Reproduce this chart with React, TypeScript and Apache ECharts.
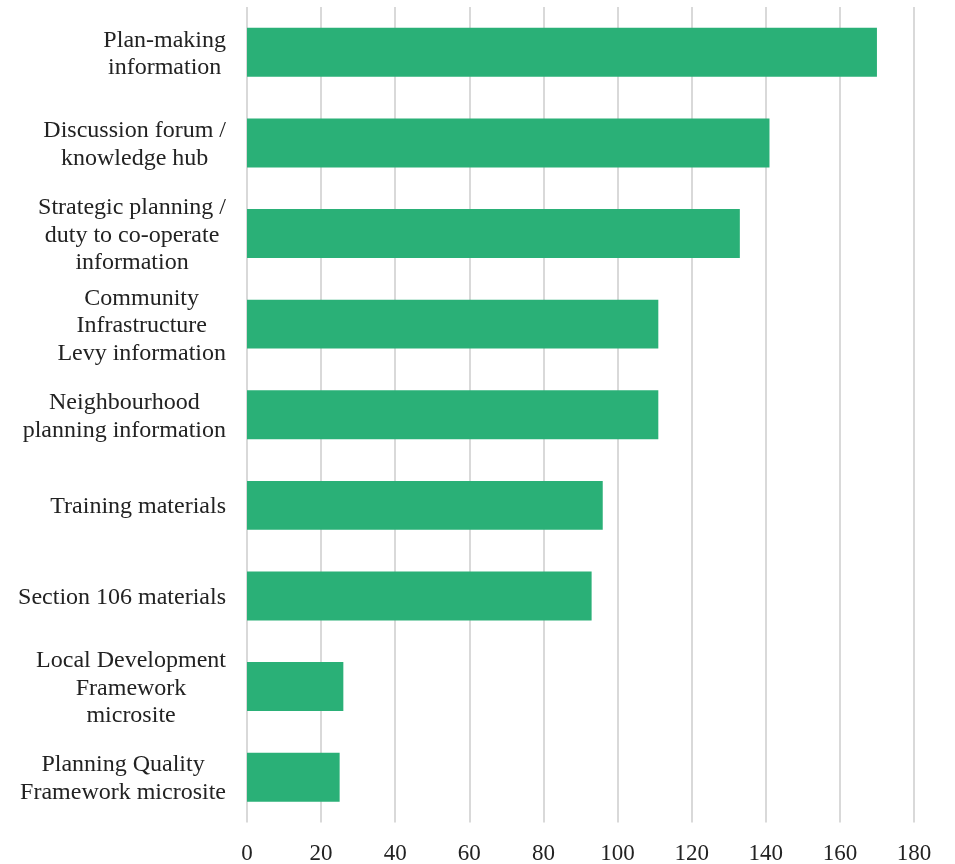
import React, { useEffect, useRef } from "react";
import * as echarts from "echarts";

const categories = [
  "Plan-making\ninformation",
  "Discussion forum /\nknowledge hub",
  "Strategic planning /\nduty to co-operate\ninformation",
  "Community\nInfrastructure\nLevy information",
  "Neighbourhood\nplanning information",
  "Training materials",
  "Section 106 materials",
  "Local Development\nFramework\nmicrosite",
  "Planning Quality\nFramework microsite",
];
const values = [170, 141, 133, 111, 111, 96, 93, 26, 25];
const xTicks = { min: 0, max: 180, interval: 20 };

const FONT = '"Liberation Serif", "Times New Roman", serif';

export default function App() {
  const ref = useRef<HTMLDivElement>(null);
  useEffect(() => {
    if (!ref.current) return;
    const chart = echarts.init(ref.current, null, { renderer: "svg" });
    chart.setOption({
      animation: false,
      grid: { left: 247, right: 41, top: 7, bottom: 41, containLabel: false },
      xAxis: {
        type: "value",
        min: xTicks.min,
        max: xTicks.max,
        interval: xTicks.interval,
        axisLine: { show: false },
        axisTick: { show: false },
        splitLine: { show: true, lineStyle: { color: "#d9d9d9", width: 2 } },
        axisLabel: {
          color: "#222",
          fontFamily: FONT,
          fontSize: 23,
          margin: 30,
          verticalAlign: "middle",
          formatter: (v: number) => String(v),
          lineHeight: 23,
        },
      },
      yAxis: {
        type: "category",
        inverse: true,
        data: categories,
        axisLine: { show: false },
        axisTick: { show: false },
        splitLine: { show: false },
        axisLabel: {
          margin: 21,
          align: "right",
          formatter: (v: string) =>
            v
              .split("\n")
              .map((l) => `{c|${l}}`)
              .join("\n"),
          rich: {
            c: {
              align: "center",
              fontFamily: FONT,
              fontSize: 24,
              lineHeight: 27.5,
              color: "#222",
            },
          },
        },
      },
      series: [
        {
          type: "bar",
          data: values,
          barCategoryGap: "46%",
          itemStyle: { color: "#2AB077" },
        },
      ],
    });
    return () => chart.dispose();
  }, []);
  return (
    <div style={{ position: "fixed", left: 0, top: 0, width: 955, height: 864 }}>
      <div ref={ref} style={{ width: 955, height: 864 }} />
    </div>
  );
}
